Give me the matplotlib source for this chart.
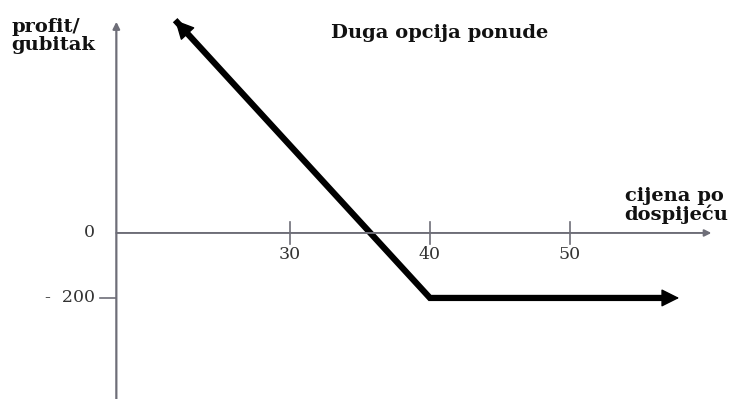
import matplotlib.pyplot as plt

# payoff of a long put (strike 40, premium 200)
payoff_x = [21.8, 40, 57.8]
payoff_y = [655, -200, -200]

x_ticks = [30, 40, 50]
x_ticklabels = ["30", "40", "50"]
y_ticks = [0, -200]
y_ticklabels = ["0", "-  200"]

title = "Duga opcija ponude"
y_label = "profit/\ngubitak"
x_label = "cijena po\ndospijeću"

axis_col = "#6e6e78"

fig = plt.figure(figsize=(7.36, 3.99), dpi=100)
ax = fig.add_axes([0, 0, 1, 1])
ax.set_xlim(9.29, 61.86)
ax.set_ylim(-511, 717)
ax.axis("off")

# axes drawn by hand with arrows
x0 = 17.6
ax.annotate("", xy=(60.1, 0), xytext=(x0, 0),
            arrowprops=dict(arrowstyle="-|>", color=axis_col, lw=1.4,
                            mutation_scale=10, shrinkA=0, shrinkB=0))
ax.annotate("", xy=(x0, 650), xytext=(x0, -520),
            arrowprops=dict(arrowstyle="-|>", color=axis_col, lw=1.6,
                            mutation_scale=10, shrinkA=0, shrinkB=0))

for t, lab in zip(x_ticks, x_ticklabels):
    ax.plot([t, t], [-34, 34], color=axis_col, lw=1.2)
    ax.text(t, -40, lab, ha="center", va="top", fontsize=12.5,
            family="DejaVu Serif", color="#333333")

ax.plot([x0 - 1.15, x0], [-200, -200], color=axis_col, lw=1.2)
for t, lab in zip(y_ticks, y_ticklabels):
    ax.text(x0 - 1.5, t, lab, ha="right", va="center", fontsize=12.5,
            family="DejaVu Serif", color="#333333")

# payoff line
ax.plot(payoff_x[:-1] + [payoff_x[-1] - 1.0], payoff_y, color="black", lw=4.5,
        solid_joinstyle="miter", solid_capstyle="butt")
ax.annotate("", xy=(payoff_x[0], payoff_y[0]), xytext=(payoff_x[0] + 1.5, payoff_y[0] - 70),
            arrowprops=dict(arrowstyle="-|>", color="black", lw=1,
                            mutation_scale=30, shrinkA=0, shrinkB=0))
ax.annotate("", xy=(payoff_x[-1], payoff_y[-1]), xytext=(payoff_x[-1] - 1.5, payoff_y[-1]),
            arrowprops=dict(arrowstyle="-|>", color="black", lw=1,
                            mutation_scale=28, shrinkA=0, shrinkB=0))

ax.text(40.7, 615, title, ha="center", va="center", fontsize=14,
        fontweight="bold", family="DejaVu Serif", color="#111111")
ax.text(10.1, 607, y_label, ha="left", va="center", fontsize=14,
        fontweight="bold", family="DejaVu Serif", color="#111111", linespacing=1.0)
ax.text(53.9, 85, x_label, ha="left", va="center", fontsize=14,
        fontweight="bold", family="DejaVu Serif", color="#111111", linespacing=1.0)

fig.savefig("out.png", dpi=100)
